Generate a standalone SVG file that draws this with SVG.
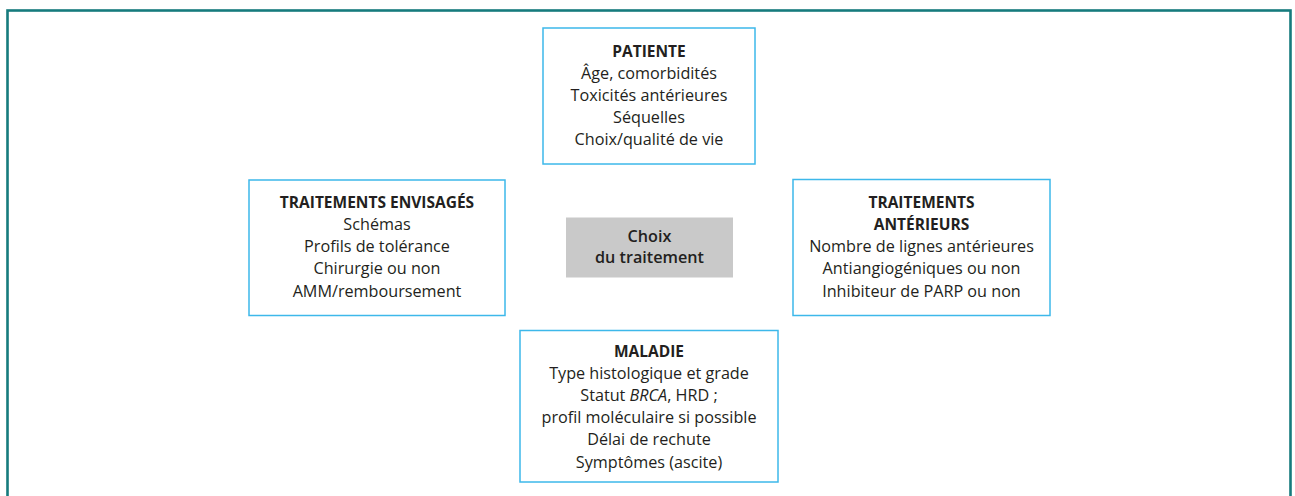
<svg xmlns="http://www.w3.org/2000/svg" width="1295" height="496" viewBox="0 0 1295 496">
<style>
.box{fill:#ffffff;stroke:#3db8ea;stroke-width:1.5}
.center{fill:#c9c9c9;stroke:none}
text{font-family:"Open Sans","Liberation Sans",sans-serif;font-size:16.2px;fill:#231f20;text-anchor:middle}
.b{font-weight:bold;font-size:15.5px}
.c{font-weight:600;font-size:16.2px}
</style>
<rect x="0" y="0" width="1295" height="496" fill="#ffffff"/>
<rect x="7.5" y="10.5" width="1283" height="500" fill="none" stroke="#167b7d" stroke-width="2.6"/>
<g id="connectors"/>
<g id="patiente">
<rect class="box" x="543" y="28" width="212" height="136"/>
<text x="649" y="57" class="b">PATIENTE</text>
<text x="649" y="79">Âge, comorbidités</text>
<text x="649" y="101">Toxicités antérieures</text>
<text x="649" y="123">Séquelles</text>
<text x="649" y="145">Choix/qualité de vie</text>
</g>
<g id="traitements-envisages">
<rect class="box" x="249" y="180" width="256" height="135.5"/>
<text x="377" y="208" class="b">TRAITEMENTS ENVISAGÉS</text>
<text x="377" y="230">Schémas</text>
<text x="377" y="252">Profils de tolérance</text>
<text x="377" y="274">Chirurgie ou non</text>
<text x="377" y="297">AMM/remboursement</text>
</g>
<g id="choix">
<rect class="center" x="566" y="217.5" width="167" height="60"/>
<text x="649.5" y="242" class="c">Choix</text>
<text x="649.5" y="263" class="c">du traitement</text>
</g>
<g id="traitements-anterieurs">
<rect class="box" x="793" y="179.5" width="257" height="136"/>
<text x="921.5" y="208" class="b">TRAITEMENTS</text>
<text x="921.5" y="230" class="b">ANTÉRIEURS</text>
<text x="921.5" y="252">Nombre de lignes antérieures</text>
<text x="921.5" y="274">Antiangiogéniques ou non</text>
<text x="921.5" y="297">Inhibiteur de PARP ou non</text>
</g>
<g id="maladie">
<rect class="box" x="520" y="330.5" width="258" height="151.5"/>
<text x="649" y="357" class="b">MALADIE</text>
<text x="649" y="379">Type histologique et grade</text>
<text x="649" y="401">Statut <tspan font-style="italic">BRCA</tspan>, HRD ;</text>
<text x="649" y="423">profil moléculaire si possible</text>
<text x="649" y="445">Délai de rechute</text>
<text x="649" y="468">Symptômes (ascite)</text>
</g>
</svg>
